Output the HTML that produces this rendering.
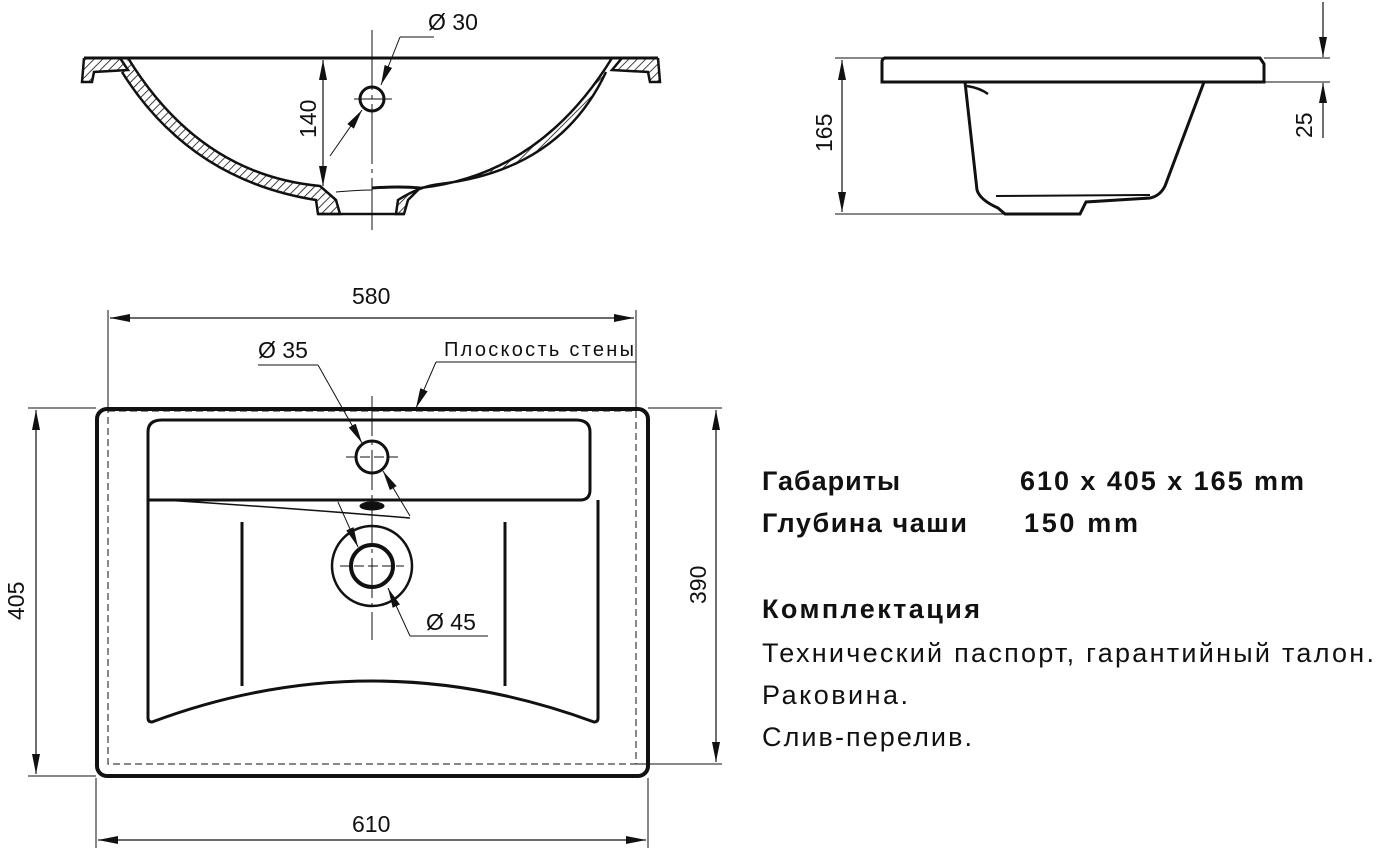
<!DOCTYPE html>
<html><head><meta charset="utf-8"><style>
html,body{margin:0;padding:0;background:#fff;}
svg{display:block}
.t{font-family:"Liberation Sans",sans-serif;fill:#111}
.d{font-family:"Liberation Sans",sans-serif;fill:#111;font-size:23px}
</style></head><body>
<svg width="1376" height="853" viewBox="0 0 1376 853" xmlns="http://www.w3.org/2000/svg">
<defs>
<marker id="a" viewBox="0 0 20 8" refX="20" refY="4" markerWidth="20" markerHeight="8" orient="auto-start-reverse" markerUnits="userSpaceOnUse"><path d="M0,0 L20,4 L0,8z" fill="#111"/></marker>
<pattern id="h" width="6" height="6" patternUnits="userSpaceOnUse" patternTransform="rotate(45)"><line x1="0" y1="0" x2="0" y2="6" stroke="#111" stroke-width="1.6"/></pattern>
</defs>
<g fill="none" stroke="#111">
<line x1="84" y1="58" x2="658" y2="58" stroke-width="3"/>
<path d="M84,58 L82,82 L92,82 L94,72 L128,70 L120,58" fill="url(#h)" stroke-width="2.5"/>
<path d="M658,58 L660,82 L650,82 L648,72 L612,70 L622,58" fill="url(#h)" stroke-width="2.5"/>
<path d="M128,58 Q200,175 320,186 L336,200 L340,214 L318,214 L316,200 Q190,180 122,72" fill="url(#h)" stroke-width="2.5"/>
<path d="M612,58 Q540,175 420,188 L408,200 L404,214 L396,214 L398,200 Q420,186 440,184 Q560,170 606,72" fill="url(#h)" stroke-width="2.5"/>
<path d="M336,192 Q360,190 372,190" stroke-width="1"/>
<path d="M372,188 Q400,186 420,188" stroke-width="3"/>
<line x1="318" y1="214" x2="404" y2="214" stroke-width="2.5"/>
<line x1="372" y1="30" x2="372" y2="230" stroke-width="1" stroke-dasharray="60,5,4,5"/>
<circle cx="372" cy="99" r="12" stroke-width="3"/>
<line x1="354" y1="99" x2="392" y2="99" stroke-width="1"/>
<line x1="323" y1="60" x2="323" y2="186" stroke-width="1.2" marker-start="url(#a)" marker-end="url(#a)"/>
<line x1="400" y1="37" x2="434" y2="37" stroke-width="1"/>
<line x1="400" y1="37" x2="381" y2="85" stroke-width="1" marker-end="url(#a)"/>
<line x1="330" y1="156" x2="362" y2="110" stroke-width="1" marker-end="url(#a)"/>
<path d="M884,58 L1260,58 L1264,64 L1264,82 L882,82 L882,62 Q882,58 886,58" stroke-width="3"/>
<path d="M965,82 L977,190 Q980,200 998,208 L1005,214 L1080,214 L1086,202 L1150,198 Q1160,196 1165,186 L1204,82" stroke-width="3"/>
<path d="M967,86 Q980,88 988,94" stroke-width="2.5"/>
<path d="M996,196 L1150,195" stroke-width="2"/>
<line x1="835" y1="58" x2="882" y2="58" stroke-width="1"/>
<line x1="835" y1="214" x2="1005" y2="214" stroke-width="1"/>
<line x1="842" y1="60" x2="842" y2="212" stroke-width="1.2" marker-start="url(#a)" marker-end="url(#a)"/>
<line x1="1264" y1="58" x2="1330" y2="58" stroke-width="1"/>
<line x1="1204" y1="82" x2="1330" y2="82" stroke-width="1"/>
<line x1="1323" y1="2" x2="1323" y2="57" stroke-width="1.2" marker-end="url(#a)"/>
<line x1="1323" y1="138" x2="1323" y2="83" stroke-width="1.2" marker-end="url(#a)"/>
<rect x="97" y="409" width="551" height="367" rx="10" stroke-width="4"/>
<rect x="108" y="411" width="528" height="353" stroke-width="1" stroke-dasharray="7,4"/>
<path d="M148,500 L148,432 Q148,420 162,420 L576,420 Q590,420 590,432 L590,490 Q590,500 580,500 Z" stroke-width="3"/>
<path d="M148,500 L148,718 Q148,722 152,722 Q372,640 594,722 Q598,722 598,718 L598,500" stroke-width="3"/>
<path d="M164,500 Q290,508 410,518" stroke-width="1.5"/>
<line x1="163" y1="500" x2="580" y2="500" stroke-width="2.5"/>
<line x1="242" y1="522" x2="242" y2="686" stroke-width="3"/>
<line x1="505" y1="522" x2="505" y2="686" stroke-width="3"/>
<circle cx="372" cy="457" r="16" stroke-width="3"/>
<ellipse cx="372" cy="506" rx="12" ry="4" fill="#111" stroke-width="1"/>
<circle cx="372" cy="566" r="40" stroke-width="2.5"/>
<circle cx="372" cy="566" r="21" stroke-width="4"/>
<line x1="372" y1="396" x2="372" y2="640" stroke-width="1" stroke-dasharray="40,5,4,5"/>
<line x1="346" y1="457" x2="398" y2="457" stroke-width="1" stroke-dasharray="10,4"/>
<line x1="340" y1="566" x2="404" y2="566" stroke-width="1" stroke-dasharray="10,4"/>
<line x1="108" y1="310" x2="108" y2="410" stroke-width="1"/>
<line x1="636" y1="310" x2="636" y2="410" stroke-width="1"/>
<line x1="110" y1="318" x2="634" y2="318" stroke-width="1.2" marker-start="url(#a)" marker-end="url(#a)"/>
<line x1="96" y1="778" x2="96" y2="848" stroke-width="1"/>
<line x1="648" y1="778" x2="648" y2="848" stroke-width="1"/>
<line x1="98" y1="840" x2="646" y2="840" stroke-width="1.2" marker-start="url(#a)" marker-end="url(#a)"/>
<line x1="28" y1="408" x2="96" y2="408" stroke-width="1"/>
<line x1="28" y1="776" x2="96" y2="776" stroke-width="1"/>
<line x1="36" y1="410" x2="36" y2="774" stroke-width="1.2" marker-start="url(#a)" marker-end="url(#a)"/>
<line x1="648" y1="408" x2="722" y2="408" stroke-width="1"/>
<line x1="636" y1="764" x2="722" y2="764" stroke-width="1"/>
<line x1="716" y1="410" x2="716" y2="762" stroke-width="1.2" marker-start="url(#a)" marker-end="url(#a)"/>
<line x1="258" y1="365" x2="318" y2="365" stroke-width="1"/>
<line x1="318" y1="365" x2="362" y2="443" stroke-width="1" marker-end="url(#a)"/>
<line x1="410" y1="516" x2="383" y2="471" stroke-width="1" marker-end="url(#a)"/>
<line x1="436" y1="362" x2="636" y2="362" stroke-width="1"/>
<line x1="436" y1="362" x2="416" y2="408" stroke-width="1" marker-end="url(#a)"/>
<line x1="410" y1="636" x2="488" y2="636" stroke-width="1"/>
<line x1="410" y1="636" x2="388" y2="588" stroke-width="1" marker-end="url(#a)"/>
<line x1="338" y1="502" x2="358" y2="547" stroke-width="1" marker-end="url(#a)"/>
</g>
<text class="d" x="428" y="30">Ø 30</text>
<text class="d" transform="translate(316,138) rotate(-90)">140</text>
<text class="d" transform="translate(832,152) rotate(-90)">165</text>
<text class="d" transform="translate(1312,138) rotate(-90)">25</text>
<text class="d" x="352" y="304">580</text>
<text class="d" x="258" y="358">Ø 35</text>
<text class="d" x="444" y="356" style="font-size:20px" textLength="190">Плоскость стены</text>
<text class="d" x="426" y="630">Ø 45</text>
<text class="d" x="352" y="832">610</text>
<text class="d" transform="translate(24,620) rotate(-90)">405</text>
<text class="d" transform="translate(706,604) rotate(-90)">390</text>
<text class="t" x="762" y="490" font-size="27" font-weight="bold" textLength="138">Габариты</text>
<text class="t" x="1020" y="490" font-size="27" font-weight="bold" textLength="284">610 x 405 x 165 mm</text>
<text class="t" x="762" y="532" font-size="27" font-weight="bold" textLength="205">Глубина чаши</text>
<text class="t" x="1024" y="532" font-size="27" font-weight="bold" textLength="114">150 mm</text>
<text class="t" x="762" y="618" font-size="27" font-weight="bold" textLength="218">Комплектация</text>
<text class="t" x="762" y="662" font-size="27" textLength="612">Технический паспорт, гарантийный талон.</text>
<text class="t" x="762" y="704" font-size="27" textLength="146">Раковина.</text>
<text class="t" x="762" y="746" font-size="27" textLength="210">Слив-перелив.</text>
</svg>
</body></html>
